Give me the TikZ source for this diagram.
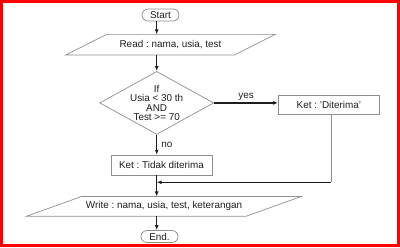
\documentclass[tikz,border=0pt]{standalone}
\usepackage{fontspec}
\setmainfont{Liberation Sans}
\frenchspacing
\usetikzlibrary{positioning,arrows.meta,shapes.geometric}
\definecolor{framered}{HTML}{FF0000}
\definecolor{lgray}{HTML}{8E8E8E}
\definecolor{ink}{HTML}{1E1E1E}
\tikzset{
  base/.style={draw=lgray,line width=0.7pt,align=center,text=ink,inner sep=0pt,
    font=\fontsize{9.9}{9.5}\selectfont},
  term/.style={base,rectangle,rounded corners=6pt,minimum width=37pt,minimum height=12pt},
  io/.style={base,rectangle,draw=none,minimum height=20pt},
  edge/.style={draw=lgray,line width=0.7pt},
  proc/.style={base,rectangle,minimum width=101pt,minimum height=20pt},
  decide/.style={base,diamond,shape aspect=1.8,minimum width=114pt,minimum height=63pt,inner sep=-2pt},
  lab/.style={font=\fontsize{9.9}{9.5}\selectfont,text=ink,inner sep=2pt},
  ar/.style={-{Latex[length=5pt,width=4pt]},line width=1.1pt,draw=ink},
}
\begin{document}
\begin{tikzpicture}[x=1pt,y=-1pt,node distance=16pt and 64pt]
\useasboundingbox (0,0) rectangle (400,247);
\draw[framered,line width=3pt] (1.5,1.5) rectangle (398.5,245.5);

% ---- main column ----
\node[term] (start) at (160.5,15) {Start};
\node[io,below=13pt of start,xshift=10pt,minimum width=127pt] (read){Read : nama, usia, test};
\draw[edge]([xshift=-41pt]read.south west) -- (read.north west) -- ([xshift=41pt]read.north east)
  -- (read.south east) -- cycle;
\node[decide,below=of read,xshift=-13.8pt] (cek){If\\Usia < 30 th\\AND\\Test >= 70};
\node[proc,below=20pt of cek,xshift=4.8pt] (tolak){Ket : Tidak diterima};
\node[io,below=21pt of tolak,xshift=2.5pt,minimum width=164pt,minimum height=19pt] (write){Write : nama, usia, test, keterangan};
\draw[edge]([xshift=-55pt]write.south west) -- (write.north west) -- ([xshift=55pt]write.north east)
  -- (write.south east) -- cycle;
\node[term,below=14pt of write,xshift=-4.5pt] (end){End.};
\draw[ar](start.south -| cek.north) -- (read.north -| cek.north);
\draw[ar](read.south -| cek.north) -- (cek.north);
\draw[ar](cek.south) -- (cek.south |- tolak.north) node[lab,midway,right=2pt]{no};
\draw[ar](tolak.south -| cek.north) -- (write.north -| cek.north);
\draw[ar](write.south -| cek.north) -- (end.north -| cek.north);

% ---- yes branch ----
\node[proc,right=of cek,yshift=-2.1pt,minimum height=19.5pt] (terima){Ket : 'Diterima'};
\draw[ar,line width=1.4pt](cek.east) -- (cek.east -| terima.west) node[lab,midway,above=0pt]{yes};
\coordinate[below=67.2pt of terima.south,xshift=2.5pt] (gabung);
\draw[lgray,line width=0.7pt]([xshift=2.5pt]terima.south) -- (gabung);
\draw[ar](gabung) -- (gabung -| cek.north);
\end{tikzpicture}
\end{document}
